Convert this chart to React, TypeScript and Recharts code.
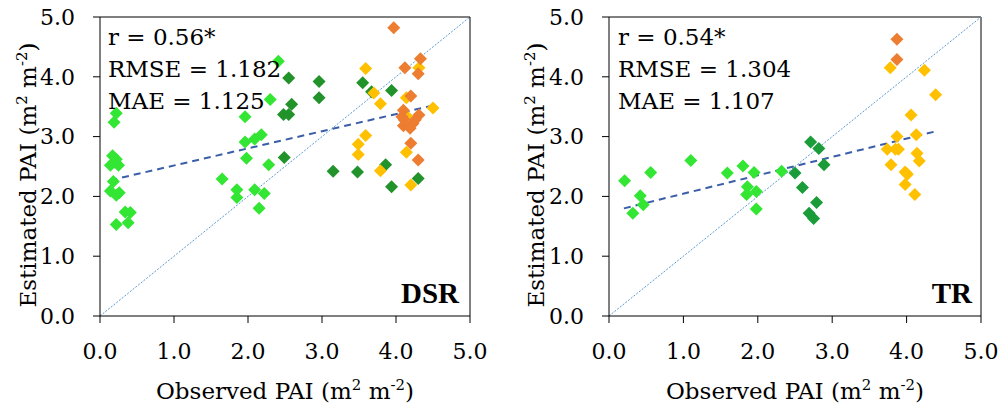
import React from 'react';
import {
  ScatterChart,
  Scatter,
  XAxis,
  YAxis,
  ReferenceLine,
} from 'recharts';

// [observed, estimated]
const dsrLight = [
  [2.41, 4.26], [2.30, 3.62], [0.22, 3.39], [0.19, 3.24], [1.96, 3.33], [1.96, 2.91],
  [2.09, 2.96], [2.18, 3.03], [1.98, 2.64], [2.28, 2.53], [0.17, 2.68], [0.22, 2.62],
  [0.14, 2.52], [0.25, 2.52], [0.2, 2.57], [0.18, 2.25], [1.65, 2.29], [0.14, 2.09],
  [0.22, 2.02], [0.26, 2.06], [1.85, 2.11], [1.85, 1.98], [2.09, 2.11], [2.22, 2.05],
  [2.15, 1.8], [0.34, 1.74], [0.41, 1.73], [0.38, 1.56], [0.22, 1.53],
];
const dsrDark = [
  [2.55, 3.98], [2.59, 3.54], [2.48, 3.37], [2.55, 3.37], [2.49, 2.65], [2.96, 3.92],
  [2.96, 3.65], [3.55, 3.9], [3.94, 3.77], [3.67, 3.75], [3.15, 2.42], [3.48, 2.41],
  [3.86, 2.53], [3.94, 2.16], [4.3, 2.3],
];
const dsrYellow = [
  [3.59, 4.14], [3.7, 3.73], [3.79, 3.55], [3.59, 3.02], [3.49, 2.87], [3.49, 2.7],
  [3.79, 2.43], [4.14, 3.65], [4.31, 4.15], [4.5, 3.48], [4.14, 2.74], [4.2, 2.19],
  [4.14, 3.35],
];
const dsrOrange = [
  [3.97, 4.82], [4.12, 4.15], [4.33, 4.3], [4.3, 4.05], [4.2, 3.68], [4.1, 3.44],
  [4.08, 3.33], [4.1, 3.18], [4.19, 3.14], [4.23, 3.22], [4.31, 3.36], [4.26, 3.28],
  [4.11, 3.28], [4.2, 2.89], [4.3, 2.61],
];
const dsrFit = [[0.14, 2.27], [4.5, 3.52]];

const trLight = [
  [0.21, 2.26], [0.32, 1.72], [0.42, 2.01], [0.46, 1.86], [0.56, 2.4], [1.1, 2.6],
  [1.59, 2.39], [1.8, 2.51], [1.86, 2.16], [1.85, 2.03], [1.95, 2.4], [1.98, 2.08],
  [1.98, 1.79], [2.32, 2.42],
];
const trDark = [
  [2.71, 2.91], [2.82, 2.8], [2.89, 2.53], [2.5, 2.39], [2.6, 2.15], [2.79, 1.9],
  [2.69, 1.72], [2.75, 1.63],
];
const trYellow = [
  [3.78, 4.15], [4.24, 4.11], [4.39, 3.7], [4.06, 3.36], [3.87, 3.0], [4.13, 3.03],
  [3.74, 2.79], [3.85, 2.79], [3.89, 2.79], [4.14, 2.72], [4.17, 2.59], [3.79, 2.53],
  [3.98, 2.41], [4.01, 2.37], [3.98, 2.2], [4.11, 2.03],
];
const trOrange = [[3.87, 4.63], [3.87, 4.29]];
const trFit = [[0.2, 1.8], [4.4, 3.09]];

const ticks = [0, 1, 2, 3, 4, 5];
const oneToOne = [[0, 0], [5, 5]];

const FONT = '"DejaVu Serif", serif';

const toPts = (a: number[][]) => a.map(([x, y]) => ({ x, y }));

const Diamond = (props: any) => {
  const { cx, cy, fill } = props;
  const h = 6.5;
  return (
    <path
      d={`M${cx},${cy - h}L${cx + h},${cy}L${cx},${cy + h}L${cx - h},${cy}Z`}
      fill={fill}
    />
  );
};

interface PanelProps {
  left: number;
  marginLeft: number;
  marginRight: number;
  light: number[][];
  dark: number[][];
  yellow: number[][];
  orange: number[][];
  fit: number[][];
  darkColor: string;
}

function Panel(p: PanelProps) {
  const tickStyle = { fill: '#000', fontSize: 22, fontFamily: FONT };
  return (
    <div style={{ position: 'absolute', left: p.left, top: 0 }}>
      <ScatterChart
        width={500}
        height={404}
        margin={{ top: 17, right: p.marginRight, bottom: 28, left: p.marginLeft }}
      >
        <XAxis
          type="number"
          dataKey="x"
          domain={[0, 5]}
          ticks={ticks}
          tickFormatter={(v: number) => v.toFixed(1)}
          height={60}
          tick={tickStyle}
          tickSize={7}
          tickMargin={20}
          stroke="#000"
          allowDataOverflow
        />
        <YAxis
          type="number"
          dataKey="y"
          domain={[0, 5]}
          ticks={ticks}
          tickFormatter={(v: number) => v.toFixed(1)}
          width={70}
          tick={tickStyle}
          tickSize={7}
          tickMargin={18}
          stroke="#000"
          allowDataOverflow
        />
        <ReferenceLine y={5} stroke="#000" />
        <ReferenceLine x={5} stroke="#000" />
        <ReferenceLine
          segment={toPts(oneToOne)}
          stroke="#5b9bd5"
          strokeWidth={1}
          strokeDasharray="2 1.5"
        />
        <Scatter data={toPts(p.light)} fill="#33e633" shape={Diamond} isAnimationActive={false} />
        <Scatter data={toPts(p.dark)} fill={p.darkColor} shape={Diamond} isAnimationActive={false} />
        <Scatter data={toPts(p.yellow)} fill="#ffc000" shape={Diamond} isAnimationActive={false} />
        <Scatter data={toPts(p.orange)} fill="#ed7d31" shape={Diamond} isAnimationActive={false} />
        <ReferenceLine
          segment={toPts(p.fit)}
          stroke="#3a5ea8"
          strokeWidth={2}
          strokeDasharray="7 5"
        />
      </ScatterChart>
    </div>
  );
}

const unit = (
  <>
    (m<sup style={{ fontSize: '0.65em' }}>2</sup> m<sup style={{ fontSize: '0.65em' }}>-2</sup>)
  </>
);

const statStyle: React.CSSProperties = {
  position: 'absolute',
  fontFamily: FONT,
  fontSize: 23,
  lineHeight: '32px',
  color: '#000',
  whiteSpace: 'nowrap',
};

const titleStyle: React.CSSProperties = {
  position: 'absolute',
  fontFamily: FONT,
  fontSize: 23,
  color: '#000',
  whiteSpace: 'nowrap',
  lineHeight: '26px',
};

const markStyle: React.CSSProperties = {
  ...titleStyle,
  fontFamily: '"Liberation Serif", serif',
  fontSize: 29,
  fontWeight: 'bold',
  lineHeight: '34px',
  transform: 'translateX(-100%)',
};

export default function App() {
  return (
    <div style={{ position: 'absolute', left: 0, top: 0, width: 1000, height: 404, background: '#fff' }}>
      <Panel
        left={0}
        marginLeft={30}
        marginRight={30}
        light={dsrLight}
        dark={dsrDark}
        yellow={dsrYellow}
        orange={dsrOrange}
        fit={dsrFit}
        darkColor="#22922a"
      />
      <Panel
        left={500}
        marginLeft={39}
        marginRight={19}
        light={trLight}
        dark={trDark}
        yellow={trYellow}
        orange={trOrange}
        fit={trFit}
        darkColor="#1a9c38"
      />

      <div style={{ ...statStyle, left: 108, top: 21 }}>
        r = 0.56*<br />RMSE = 1.182<br />MAE = 1.125
      </div>
      <div style={{ ...statStyle, left: 618, top: 21 }}>
        r = 0.54*<br />RMSE = 1.304<br />MAE = 1.107
      </div>

      <div style={{ ...markStyle, left: 459, top: 276 }}>DSR</div>
      <div style={{ ...markStyle, left: 972, top: 276 }}>TR</div>

      <div style={{ ...titleStyle, left: 285, top: 388, transform: 'translate(-50%, -50%)' }}>
        Observed PAI {unit}
      </div>
      <div style={{ ...titleStyle, left: 795, top: 388, transform: 'translate(-50%, -50%)' }}>
        Observed PAI {unit}
      </div>
      <div style={{ ...titleStyle, left: 25, top: 175, transform: 'translate(-50%, -50%) rotate(-90deg)' }}>
        Estimated PAI {unit}
      </div>
      <div style={{ ...titleStyle, left: 533, top: 175, transform: 'translate(-50%, -50%) rotate(-90deg)' }}>
        Estimated PAI {unit}
      </div>
    </div>
  );
}
